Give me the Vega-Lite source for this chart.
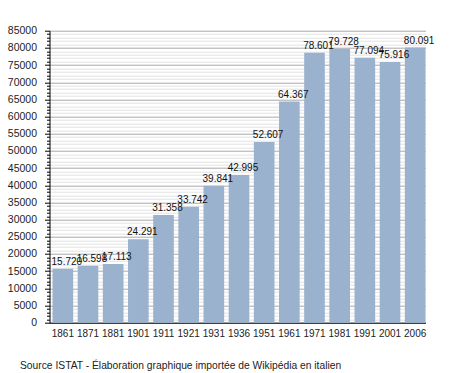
{
  "$schema": "https://vega.github.io/schema/vega-lite/v6.json",
  "width": 376,
  "height": 292,
  "autosize": {"type": "none"},
  "padding": {"left": 49.5, "top": 30.7, "right": 29.3, "bottom": 50.4},
  "background": "white",
  "config": {
    "font": "Liberation Sans",
    "view": {"stroke": null},
    "title": {"font": "Liberation Sans", "fontWeight": "normal", "fontSize": 10.3, "color": "#222"}
  },
  "title": {
    "text": "Source ISTAT - Élaboration graphique importée de Wikipédia en italien",
    "orient": "bottom",
    "anchor": "start",
    "frame": "group",
    "dx": -29.5,
    "offset": 22
  },
  "data": {
    "values": [
      {"year": "1861", "pop": 15720, "label": "15.720"},
      {"year": "1871", "pop": 16598, "label": "16.598"},
      {"year": "1881", "pop": 17113, "label": "17.113"},
      {"year": "1901", "pop": 24291, "label": "24.291"},
      {"year": "1911", "pop": 31358, "label": "31.358"},
      {"year": "1921", "pop": 33742, "label": "33.742"},
      {"year": "1931", "pop": 39841, "label": "39.841"},
      {"year": "1936", "pop": 42995, "label": "42.995"},
      {"year": "1951", "pop": 52607, "label": "52.607"},
      {"year": "1961", "pop": 64367, "label": "64.367"},
      {"year": "1971", "pop": 78601, "label": "78.601"},
      {"year": "1981", "pop": 79728, "label": "79.728"},
      {"year": "1991", "pop": 77094, "label": "77.094"},
      {"year": "2001", "pop": 75916, "label": "75.916"},
      {"year": "2006", "pop": 80091, "label": "80.091"}
    ]
  },
  "encoding": {
    "x": {
      "field": "year",
      "type": "ordinal",
      "sort": null,
      "scale": {"paddingInner": 0.18, "paddingOuter": 0.06, "align": 1},
      "axis": {
        "title": null,
        "labelAngle": 0,
        "labelFontSize": 10,
        "labelColor": "#222",
        "ticks": false,
        "labelPadding": 6,
        "domainColor": "#000",
        "domainWidth": 1
      }
    },
    "y": {
      "field": "pop",
      "type": "quantitative",
      "scale": {"domain": [0, 85000], "nice": false},
      "axis": {
        "title": null,
        "values": [0,1000,2000,3000,4000,5000,6000,7000,8000,9000,10000,11000,12000,13000,14000,15000,16000,17000,18000,19000,20000,21000,22000,23000,24000,25000,26000,27000,28000,29000,30000,31000,32000,33000,34000,35000,36000,37000,38000,39000,40000,41000,42000,43000,44000,45000,46000,47000,48000,49000,50000,51000,52000,53000,54000,55000,56000,57000,58000,59000,60000,61000,62000,63000,64000,65000,66000,67000,68000,69000,70000,71000,72000,73000,74000,75000,76000,77000,78000,79000,80000,81000,82000,83000,84000,85000],
        "format": "d",
        "labelExpr": "datum.value % 5000 === 0 ? datum.label : ''",
        "labelFontSize": 10.5,
        "labelColor": "#222",
        "labelPadding": 8,
        "labelOverlap": false,
        "labelBound": false,
        "labelFlush": false,
        "tickSize": {"condition": {"test": "datum.value % 5000 === 0", "value": 5}, "value": 3},
        "tickColor": "#000",
        "domainColor": "#000",
        "grid": true,
        "gridColor": {"condition": {"test": "datum.value % 5000 === 0", "value": "#a8a8a8"}, "value": "#e2e2e2"},
        "gridWidth": 1
      }
    }
  },
  "layer": [
    {"mark": {"type": "bar", "color": "#9ab2ce"}},
    {
      "mark": {"type": "text", "align": "left", "baseline": "alphabetic", "dx": -1, "dy": -4, "fontSize": 10, "color": "#111"},
      "encoding": {
        "x": {"field": "year", "type": "ordinal", "sort": null, "bandPosition": 0},
        "text": {"field": "label"}
      }
    }
  ]
}
